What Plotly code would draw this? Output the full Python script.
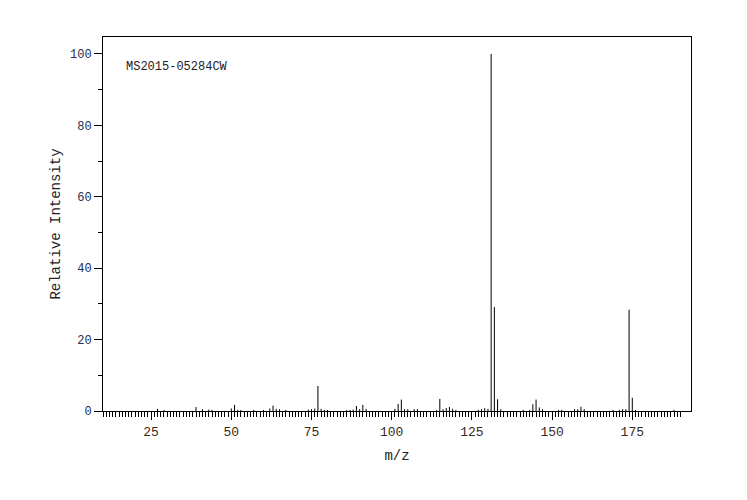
import plotly.graph_objects as go

mz = [27, 29, 39, 41, 43, 44, 50, 51, 52, 53, 57, 60, 62, 63, 64, 65, 67,
      74, 75, 76, 77, 78, 79, 80, 86, 87, 88, 89, 90, 91, 92,
      101, 102, 103, 104, 105, 107, 108, 114, 115, 116, 117, 118, 119, 120,
      127, 128, 129, 130, 131, 132, 133, 134, 141, 143, 144, 145, 146, 147,
      152, 153, 157, 158, 159, 160, 169, 171, 172, 173, 174, 175, 176, 188]
intensity = [0.6, 0.3, 1.1, 0.5, 0.4, 0.3, 0.7, 1.7, 0.3, 0.3, 0.3, 0.3, 0.7, 1.5, 0.6, 0.5, 0.3,
             0.4, 0.5, 0.7, 7.0, 0.6, 0.3, 0.3, 0.3, 0.3, 0.4, 1.4, 0.5, 1.7, 0.6,
             0.6, 2.0, 3.2, 0.5, 0.5, 0.5, 0.5, 0.3, 3.4, 0.5, 0.8, 1.1, 0.6, 0.3,
             0.3, 0.5, 0.8, 0.6, 100.0, 29.1, 3.3, 0.5, 0.3, 0.3, 1.9, 3.2, 1.0, 0.5,
             0.3, 0.3, 0.5, 0.5, 1.2, 0.5, 0.3, 0.3, 0.5, 0.5, 28.4, 3.7, 0.3, 0.3]

x_major = [25, 50, 75, 100, 125, 150, 175]
x_minor = list(range(10, 191))
y_major = [0, 20, 40, 60, 80, 100]
y_minor = [10, 30, 50, 70, 90]

xs, ys = [], []
for m, h in zip(mz, intensity):
    xs += [m, m, None]
    ys += [0, h, None]

FONT = "Liberation Mono, Courier New, monospace"

fig = go.Figure(go.Scatter(x=xs, y=ys, mode="lines",
                           line=dict(color="black", width=1),
                           hoverinfo="skip", showlegend=False))

fig.update_layout(
    width=747, height=500,
    margin=dict(l=103, r=56, t=37, b=89),
    paper_bgcolor="white", plot_bgcolor="white",
    font=dict(family=FONT, size=12, color="#222"),
    annotations=[dict(text="MS2015-05284CW", xref="paper", yref="paper",
                      x=0.036, y=0.92, xanchor="left", yanchor="middle",
                      showarrow=False, font=dict(family=FONT, size=12, color="#222"))],
)

fig.update_xaxes(
    range=[10, 193.3], showgrid=False, zeroline=False,
    showline=True, linecolor="black", linewidth=1, mirror=True,
    tickmode="array", tickvals=x_major, ticks="outside", ticklen=8,
    tickcolor="black", tickwidth=1,
    tickfont=dict(family=FONT, size=13, color="#3a2a1a"),
    minor=dict(tickmode="array", tickvals=x_minor, ticks="outside", ticklen=5,
               tickcolor="black", tickwidth=1, showgrid=False),
    title=dict(text="m/z", font=dict(family=FONT, size=14, color="#222"), standoff=11),
)
fig.update_yaxes(
    range=[0, 104.76], showgrid=False, zeroline=False,
    showline=True, linecolor="black", linewidth=1, mirror=True,
    tickmode="array", tickvals=y_major, ticks="outside", ticklen=8,
    tickcolor="black", tickwidth=1,
    tickfont=dict(family=FONT, size=12, color="#1f3050"),
    minor=dict(tickmode="array", tickvals=y_minor, ticks="outside", ticklen=4,
               tickcolor="black", tickwidth=1, showgrid=False),
    title=dict(text="Relative Intensity", font=dict(family=FONT, size=14, color="#222"), standoff=6),
)

fig.write_html("out.html")
